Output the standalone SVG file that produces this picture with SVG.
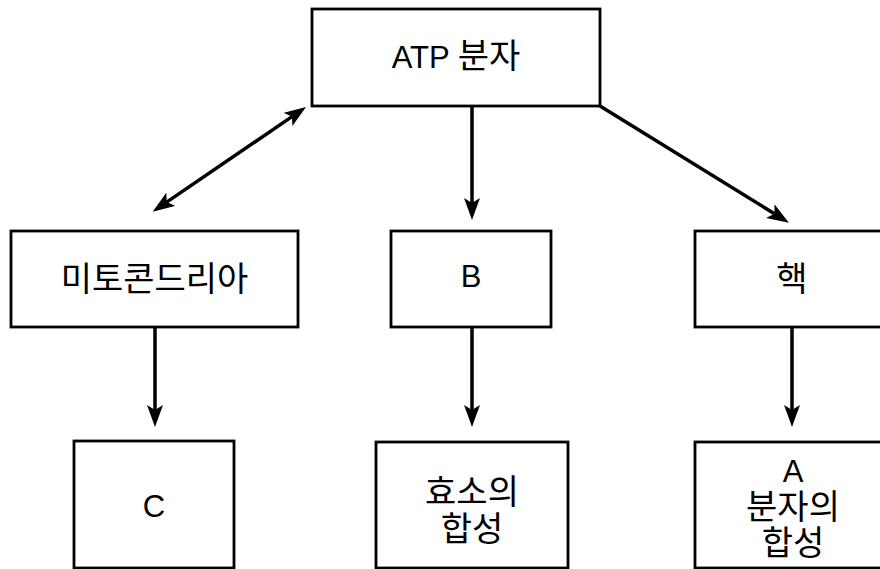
<svg xmlns="http://www.w3.org/2000/svg" width="880" height="569" viewBox="0 0 880 569">
<style>
.box{fill:#fff;stroke:#000;stroke-width:2.8}
.lbl{font-family:"Liberation Sans","Noto Sans CJK KR",sans-serif;font-size:31px;fill:#000;text-anchor:middle}
.ko{font-size:34px}
.edge{stroke:#000;stroke-width:3.5;fill:none}
</style>
<defs>
<marker id="ah" markerUnits="userSpaceOnUse" markerWidth="22" markerHeight="16" viewBox="0 0 22 16" refX="5" refY="8" orient="auto-start-reverse">
<path d="M0,0 L22,8 L0,16 L5,8 Z" fill="#000"/>
</marker>
</defs>
<rect width="880" height="569" fill="#fff"/>
<g id="n-atp"><rect class="box" x="312" y="9" width="288" height="97"/><text class="lbl" x="456" y="68">ATP <tspan class="ko">분자</tspan></text></g>
<g id="n-mito"><rect class="box" x="11" y="231" width="287" height="96"/><text class="lbl ko" x="154.5" y="291">미토콘드리아</text></g>
<g id="n-b"><rect class="box" x="391" y="231" width="160" height="96"/><text class="lbl" x="471" y="287">B</text></g>
<g id="n-nuc"><rect class="box" x="695" y="231" width="196" height="96"/><text class="lbl ko" x="792" y="291">핵</text></g>
<g id="n-c"><rect class="box" x="74" y="441" width="160" height="127"/><text class="lbl" x="154" y="517">C</text></g>
<g id="n-enz"><rect class="box" x="376" y="442" width="192" height="126"/><text class="lbl ko" x="472" y="504">효소의</text><text class="lbl ko" x="472" y="541">합성</text></g>
<g id="n-a"><rect class="box" x="695" y="442" width="196" height="126"/><text class="lbl" x="793" y="482">A</text><text class="lbl ko" x="793" y="519">분자의</text><text class="lbl ko" x="793" y="555">합성</text></g>
<g id="connectors">
<line class="edge" x1="472" y1="106" x2="472" y2="203" marker-end="url(#ah)"/>
<line class="edge" x1="472" y1="327" x2="472" y2="410" marker-end="url(#ah)"/>
<line class="edge" x1="155" y1="327" x2="155" y2="410" marker-end="url(#ah)"/>
<line class="edge" x1="792" y1="327" x2="792" y2="410" marker-end="url(#ah)"/>
<line class="edge" x1="600" y1="106" x2="774.5" y2="213.8" marker-end="url(#ah)"/>
<line class="edge" x1="292" y1="116.6" x2="166.7" y2="202.1" marker-start="url(#ah)" marker-end="url(#ah)"/>
</g>
</svg>
